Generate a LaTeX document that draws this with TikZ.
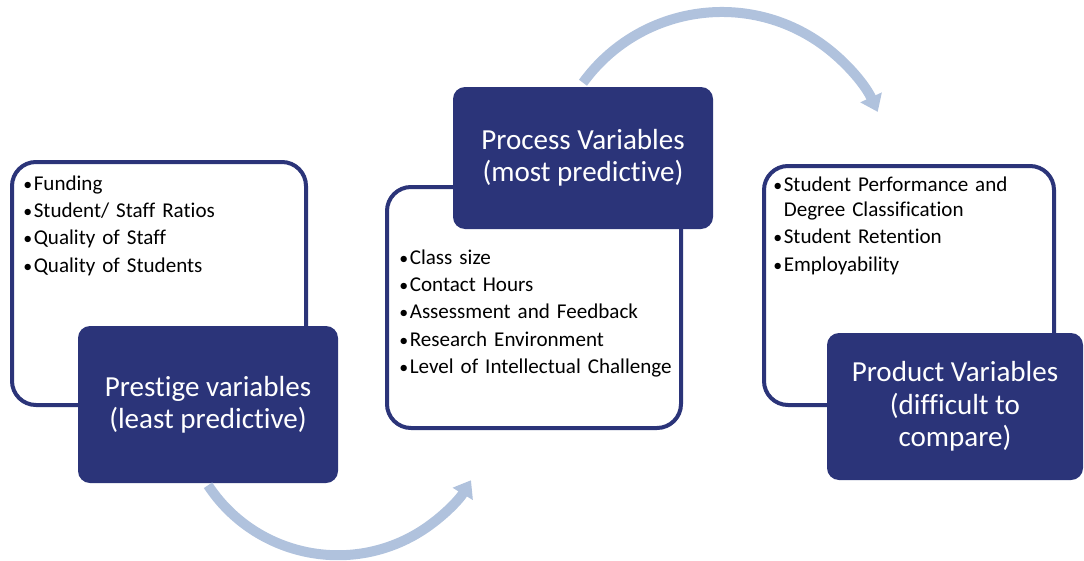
\documentclass[tikz,border=0pt]{standalone}
\usepackage{fontspec}
\usepackage{graphicx}
\setmainfont{Carlito}[Ligatures={NoCommon}]
\usetikzlibrary{arrows.meta}
\definecolor{navy}{RGB}{43,52,121}
\definecolor{flowblue}{RGB}{176,194,221}
% small bullet with a fixed hanging width
\newcommand\li{\makebox[7.9pt][l]{\scalebox{0.85}{•}}}
\begin{document}
\begin{tikzpicture}[x=0.75pt,y=0.75pt,
  frame/.style={draw=navy, line width=3pt, fill=white, rounded corners=18pt, inner sep=0pt},
  title/.style={fill=navy, rounded corners=9pt, text=white, align=center,
    font=\fontsize{21.8}{24.3}\selectfont, inner sep=0pt},
  items/.style={anchor=base west, inner sep=0pt, align=left, text width=225pt,
    font=\fontsize{15.8}{20.6}\selectfont},
  flow/.style={draw=flowblue, line width=7.5pt, -{Triangle[width=17pt,length=12pt]}}]
\useasboundingbox (0,0) rectangle (1084,-560);

% white list panels
\node[frame, minimum width=220.5pt, minimum height=182.25pt] (prestigeframe) at (159,-283.5) {};
\node[frame, minimum width=220.5pt, minimum height=180.75pt] (processframe) at (534,-307.5) {};
\node[frame, minimum width=217.5pt, minimum height=179.25pt] (productframe) at (909,-285.5) {};

% dark title boxes
\node[title, minimum width=195pt, minimum height=117.75pt] (prestige) at (208,-404.5)
  {Prestige variables\\(least predictive)};
\node[title, minimum width=195pt, minimum height=106.5pt] (process) at (583,-158)
  {Process Variables\\(most predictive)};
\node[title, minimum width=192pt, minimum height=110.25pt] (product) at (955,-406.5)
  {Product Variables\\(difficult to\\compare)};

% curved flow arrows
\draw[flow] ([yshift=-1.5pt]prestige.south) arc[start angle=213.4, end angle=328.8, radius=116.7pt];
\draw[flow] ([yshift=3pt]process.north) arc[start angle=144, end angle=24.7, radius=128.7pt];

% bullet lists
\node[items] (prestigelist) at (23,-190)
  {\li Funding\\ \li Student/ Staff Ratios\\ \li Quality of Staff\\ \li Quality of Students};
\node[items] (processlist) at (399,-264)
  {\li Class size\\ \li Contact Hours\\ \li Assessment and Feedback\\ \li Research Environment\\ \li Level of Intellectual Challenge};
\node[items] (productlist) at (773,-191)
  {\li Student Performance and\\[-1.7pt] \hspace*{7.9pt}Degree Classification\\ \li Student Retention\\ \li Employability};
\end{tikzpicture}
\end{document}
